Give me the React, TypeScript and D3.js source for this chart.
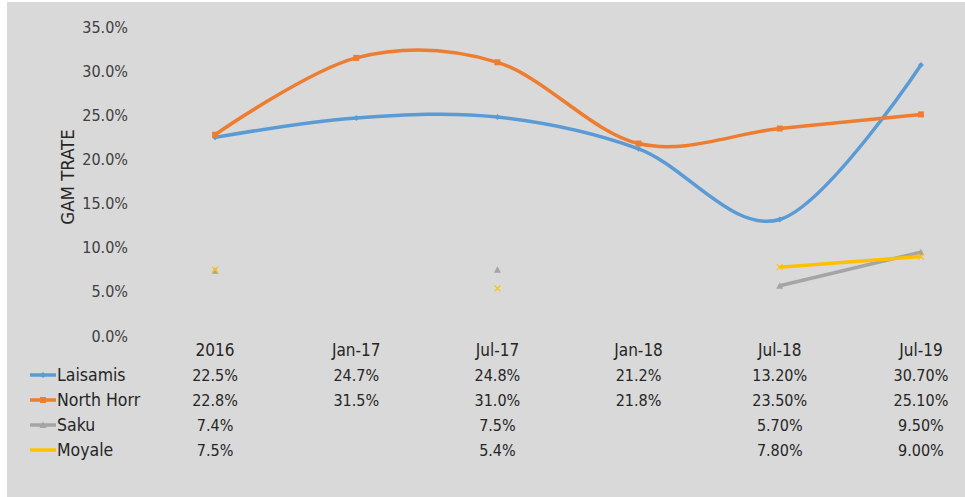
import React from "react";
import * as d3 from "d3";

const W = 965;
const H = 497;

const categories = ["2016", "Jan-17", "Jul-17", "Jan-18", "Jul-18", "Jul-19"];
// decimals shown in the data table for each column
const columnDecimals = [1, 1, 1, 1, 2, 2];

const laisamis = [22.5, 24.7, 24.8, 21.2, 13.2, 30.7];
const northHorr = [22.8, 31.5, 31.0, 21.8, 23.5, 25.1];
const saku: (number | null)[] = [7.4, null, 7.5, null, 5.7, 9.5];
const moyale: (number | null)[] = [7.5, null, 5.4, null, 7.8, 9.0];

const seriesNames = ["Laisamis", "North Horr", "Saku", "Moyale"];
const seriesColors = ["#5b9bd5", "#ed7d31", "#a5a5a5", "#ffc000"];
const seriesMarkers = ["diamond", "square", "triangle", "x"];
const yTicks = [0, 5, 10, 15, 20, 25, 30, 35];

const FONT = "'DejaVu Sans Condensed', 'DejaVu Sans', sans-serif";
const TEXT = "#404040";
const DARK = "#262626";

function Marker({ kind, cx, cy, color }: { kind: string; cx: number; cy: number; color: string }) {
  const s = 3;
  if (kind === "diamond") {
    return <path d={`M${cx},${cy - s} L${cx + s},${cy} L${cx},${cy + s} L${cx - s},${cy} Z`} fill={color} />;
  }
  if (kind === "square") {
    return <rect x={cx - s} y={cy - s} width={2 * s} height={2 * s} fill={color} />;
  }
  if (kind === "triangle") {
    return <path d={`M${cx},${cy - s - 0.5} L${cx + s + 0.5},${cy + s} L${cx - s - 0.5},${cy + s} Z`} fill={color} />;
  }
  return (
    <path
      d={`M${cx - s},${cy - s} L${cx + s},${cy + s} M${cx + s},${cy - s} L${cx - s},${cy + s}`}
      stroke={color}
      strokeWidth={1.2}
      fill="none"
    />
  );
}

export default function App() {
  const x = d3.scaleBand<string>().domain(categories).range([144.5, 991.5]).paddingInner(0).paddingOuter(0);
  const cx = (c: string) => (x(c) as number) + x.bandwidth() / 2;
  const y = d3.scaleLinear().domain([0, 35]).range([336, 27]);

  const allSeries = [laisamis, northHorr, saku, moyale];

  const line = d3
    .line<number | null>()
    .defined((d) => d !== null)
    .x((_, i) => cx(categories[i]))
    .y((d) => y(d as number))
    .curve(d3.curveCardinal.tension(0));

  const rowY = [375, 400, 425, 450];

  return (
    <svg width={W} height={H} style={{ position: "absolute", left: 0, top: 0 }} fontFamily={FONT}>
      <rect x={0} y={0} width={W} height={H} fill="#ffffff" />
      <rect x={7} y={2} width={W - 7} height={H - 2} fill="#d9d9d9" />

      {/* y axis tick labels */}
      {yTicks.map((t) => (
        <text key={t} x={128} y={y(t)} dy="0.35em" textAnchor="end" fontSize={16} fill={TEXT}>
          {d3.format(".1f")(t)}%
        </text>
      ))}

      {/* y axis title */}
      <text
        transform={`translate(68,${177}) rotate(-90)`}
        textAnchor="middle"
        dy="0.35em"
        fontSize={18.5}
        fill={DARK}
      >
        GAM TRATE
      </text>

      {/* series lines and markers */}
      {allSeries.map((vals, si) => (
        <g key={seriesNames[si]}>
          <path d={line(vals) || ""} fill="none" stroke={seriesColors[si]} strokeWidth={3.5} strokeLinejoin="round" />
          {vals.map((v, i) =>
            v === null ? null : (
              <Marker key={i} kind={seriesMarkers[si]} cx={cx(categories[i])} cy={y(v)} color={seriesColors[si]} />
            )
          )}
        </g>
      ))}

      {/* data table header */}
      {categories.map((c) => (
        <text key={c} x={cx(c)} y={350} dy="0.35em" textAnchor="middle" fontSize={17} fill={DARK}>
          {c}
        </text>
      ))}

      {/* data table rows with legend keys */}
      {allSeries.map((vals, si) => (
        <g key={seriesNames[si]}>
          <line x1={30} x2={56} y1={rowY[si]} y2={rowY[si]} stroke={seriesColors[si]} strokeWidth={3.5} />
          {si < 3 && <Marker kind={seriesMarkers[si]} cx={43} cy={rowY[si]} color={seriesColors[si]} />}
          <text x={57} y={rowY[si]} dy="0.35em" fontSize={17.5} fill={DARK}>
            {seriesNames[si]}
          </text>
          {vals.map((v, i) =>
            v === null ? null : (
              <text key={i} x={cx(categories[i])} y={rowY[si]} dy="0.35em" textAnchor="middle" fontSize={16} fill={DARK}>
                {v.toFixed(columnDecimals[i])}%
              </text>
            )
          )}
        </g>
      ))}
    </svg>
  );
}
